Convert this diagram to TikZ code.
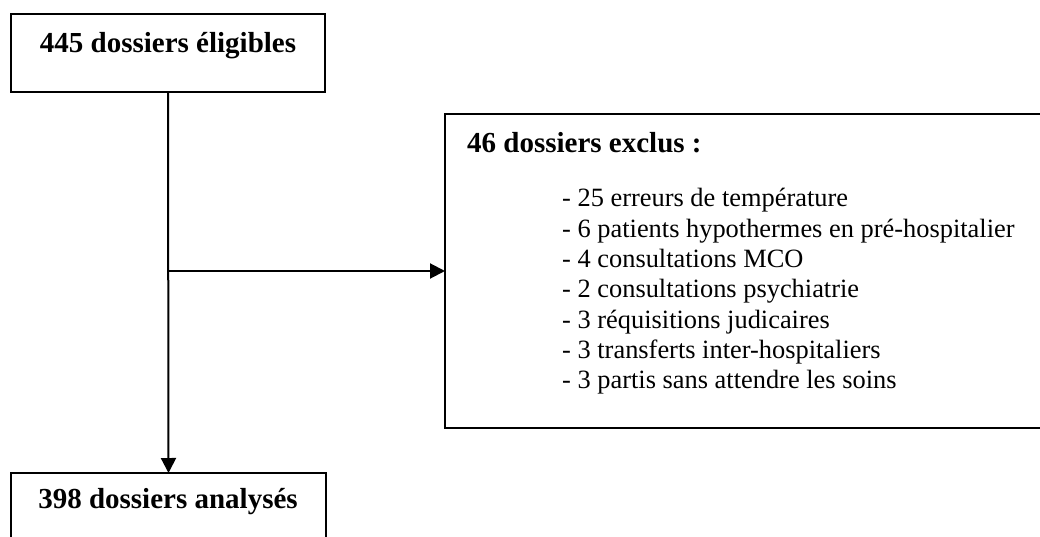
\documentclass[tikz,border=0pt]{standalone}
\usepackage{fontspec}
\setmainfont{Liberation Serif}
\usetikzlibrary{arrows.meta}
\tikzset{
  boxnode/.style={draw=black, line width=2pt, inner sep=0pt, outer sep=0pt, fill=white},
  arr/.style={draw=black, line width=2pt, -{Triangle[length=15pt,width=15pt]}},
  conn/.style={draw=black, line width=2pt},
  boldtxt/.style={inner sep=0pt, font=\fontsize{29}{33}\selectfont\bfseries},
  listtxt/.style={inner sep=0pt, anchor=base west, font=\fontsize{26.4}{30.3}\selectfont}
}
\begin{document}
\begin{tikzpicture}[x=1pt,y=-1pt]
\useasboundingbox (0,0) rectangle (1040,537);
\clip (0,0) rectangle (1040,537);
\fill[white] (0,0) rectangle (1040,537);
% boxes
\node[boxnode, minimum width=314pt, minimum height=78pt] (top) at (168,53) {};
\node[boxnode, minimum width=315pt, minimum height=140pt] (bottom) at (168.5,543) {};
\node[boxnode, minimum width=615pt, minimum height=314pt] (excl) at (752.5,271) {};
% texts
\node[boldtxt, anchor=base] (toptxt) at (168,53) {445 dossiers éligibles};
\node[boldtxt, anchor=base] (bottxt) at (168,508) {398 dossiers analysés};
\node[boldtxt, anchor=base west] (exhead) at (467,153) {46 dossiers exclus :};
\node[listtxt] (l1) at (562,207.0) {- 25 erreurs de température};
\node[listtxt] (l2) at (562,237.3) {- 6 patients hypothermes en pré-hospitalier};
\node[listtxt] (l3) at (562,267.6) {- 4 consultations MCO};
\node[listtxt] (l4) at (562,297.9) {- 2 consultations psychiatrie};
\node[listtxt] (l5) at (562,328.2) {- 3 réquisitions judicaires};
\node[listtxt] (l6) at (562,358.5) {- 3 transferts inter-hospitaliers};
\node[listtxt] (l7) at (562,388.8) {- 3 partis sans attendre les soins};
% connectors
\draw[arr] (top.south) -- (bottom.north);
\coordinate (junc) at (168,271);
\draw[arr] (junc) -- (excl.west);
\end{tikzpicture}
\end{document}
